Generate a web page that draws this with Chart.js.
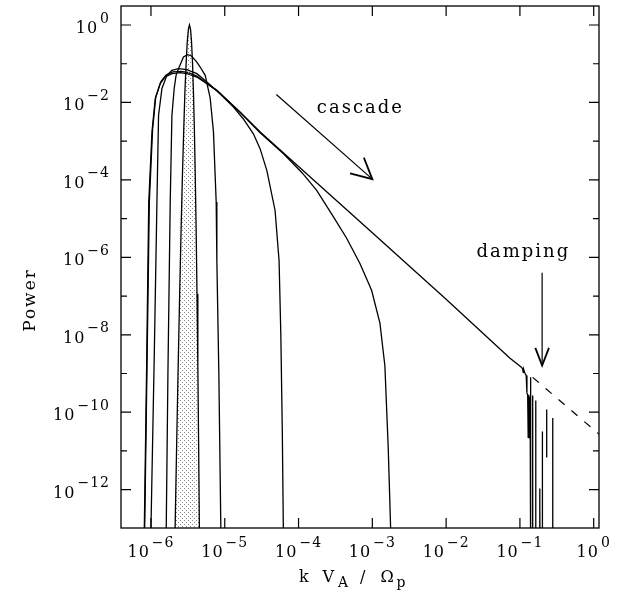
<!DOCTYPE html>
<html><head><meta charset="utf-8">
<script src="https://cdn.jsdelivr.net/npm/chart.js@4.4.1/dist/chart.umd.min.js"></script>
<style>html,body{margin:0;padding:0;background:#fff;}#wrap{width:632px;height:599px;}</style>
</head><body><div id="wrap"><canvas id="c" width="632" height="599"></canvas></div>
<script>
// ---- axis ranges (log10) and ticks ----
const xRangeLog = [-6.406, 0.0717];
const yRangeLog = [-12.99, 0.491];
const xTickExponents = [-6, -5, -4, -3, -2, -1, 0];
const yTickExponents = [0, -1, -2, -3, -4, -5, -6, -7, -8, -9, -10, -11, -12];
const yLabelExponents = [0, -2, -4, -6, -8, -10, -12];

// ---- series (log10 k, log10 P) ----
const shadedLogK = [-5.68, -5.674, -5.652, -5.631, -5.611, -5.592, -5.574, -5.556, -5.540, -5.523, -5.508, -5.4926, -5.478, -5.4638, -5.4501, -5.4369, -5.424, -5.4115, -5.3994, -5.3875, -5.376, -5.3648, -5.3539, -5.3432, -5.338];
const shadedLogP = [-14, -13.14, -10.86, -8.80, -6.95, -5.32, -3.91, -2.71, -1.737, -0.977, -0.434, -0.109, 0, -0.109, -0.434, -0.977, -1.737, -2.71, -3.91, -5.32, -6.95, -8.80, -10.86, -13.14, -14];

const curveALogK = [-5.80, -5.793, -5.77, -5.739, -5.716, -5.685, -5.66, -5.627, -5.559, -5.505, -5.45, -5.378, -5.333, -5.265, -5.198, -5.153, -5.116, -5.107, -5.08, -5.053, -5.05];
const curveALogP = [-14, -13, -9, -4.57, -2.33, -1.64, -1.30, -1.127, -0.827, -0.765, -0.80, -0.956, -1.085, -1.30, -1.88, -2.76, -4.57, -6.08, -9, -13, -14];

const curveBLogK = [-6.005, -6.0, -5.955, -5.919, -5.897, -5.851, -5.784, -5.716, -5.627, -5.513, -5.378, -5.242, -5.05, -4.882, -4.75, -4.612, -4.52, -4.43, -4.318, -4.264, -4.24, -4.22, -4.206, -4.20];
const curveBLogP = [-14, -13, -8.5, -4.57, -2.33, -1.64, -1.30, -1.17, -1.127, -1.15, -1.256, -1.47, -1.80, -2.12, -2.42, -2.81, -3.2, -3.755, -4.79, -6.08, -8.0, -10.5, -13, -14];

const curveCLogK = [-6.095, -6.085, -6.055, -6.022, -5.978, -5.935, -5.865, -5.795, -5.705, -5.60, -5.50, -5.378, -5.107, -4.79, -4.52, -4.2, -3.95, -3.754, -3.529, -3.35, -3.168, -3.01, -2.897, -2.83, -2.785, -2.752, -2.745];
const curveCLogP = [-14, -13, -9, -4.57, -2.70, -1.86, -1.46, -1.29, -1.21, -1.195, -1.225, -1.32, -1.69, -2.26, -2.78, -3.33, -3.82, -4.27, -4.95, -5.5, -6.16, -6.85, -7.7, -8.8, -10.9, -13, -14];

const curveDLogK = [-6.10, -6.09, -6.06, -6.03, -5.986, -5.942, -5.875, -5.807, -5.716, -5.60, -5.50, -5.378, -5.107, -4.79, -4.52, -4.0, -3.0, -2.0, -1.138, -0.98,
  -0.965, -0.955, -0.948, -0.935, -0.915, -0.905, -0.895, -0.888, -0.880, -0.872, -0.862, -0.856, -0.853,
  -0.830, -0.828, -0.826, -0.788, -0.786, -0.784, -0.735, -0.733, -0.728, -0.726, -0.698, -0.696, -0.694,
  -0.66, -0.637, -0.637, -0.62, -0.558, -0.556, -0.554];
const curveDLogP = [-14, -13, -9, -4.57, -2.76, -1.90, -1.51, -1.34, -1.256, -1.23, -1.26, -1.344, -1.687, -2.25, -2.765, -3.655, -5.367, -7.08, -8.60, -8.84,
  -8.87, -8.97, -8.90, -8.98, -9.05, -9.50, -9.55, -10.65, -9.55, -10.68, -9.60, -9.10, -14,
  -14, -9.57, -14, -14, -9.70, -14, -14, -11.97, -12.5, -14, -14, -10.50, -14,
  null, -9.93, -11.17, null, -14, -10.15, -14];

const dampedLogK = [-0.827, 0.08];
const dampedLogP = [-9.10, -10.58];

// ---- annotations (data coordinates) ----
const cascadeText = {text: 'cascade', k: 1.77e-4, p: 5.2e-3};
const dampingText = {text: 'damping', k: 2.58e-2, p: 1.01e-6};
const cascadeArrow = {k0: 5.0e-5, p0: 1.6e-2, k1: 1.0e-3, p1: 1.05e-4, head: 23, angle: 27};
const dampingArrow = {k0: 0.2, p0: 4.0e-7, k1: 0.2, p1: 1.6e-9, head: 19, angle: 21};

function toPoints(lk, lp) {
  return lk.map((v, i) => ({x: Math.pow(10, v), y: lp[i] === null ? null : Math.pow(10, lp[i])}));
}

const canvas = document.getElementById('c');
const ctx0 = canvas.getContext('2d');
const tile = document.createElement('canvas');
tile.width = 4; tile.height = 4;
const tctx = tile.getContext('2d');
tctx.fillStyle = '#888';
tctx.fillRect(0, 0, 1, 1);
tctx.fillRect(2, 2, 1, 1);
const dotPattern = ctx0.createPattern(tile, 'repeat');

const SERIF = '"DejaVu Serif", "Liberation Serif", serif';

function drawPow(ctx, x, baseY, expY, exp, align) {
  const base = '10';
  const e = (exp < 0 ? '\u2212' + (-exp) : String(exp));
  ctx.letterSpacing = '1px';
  ctx.font = '16px ' + SERIF;
  const wb = ctx.measureText(base).width;
  ctx.font = '14px ' + SERIF;
  const we = ctx.measureText(e).width;
  const gap = 2;
  const total = wb + gap + we;
  let sx = align === 'center' ? x - total / 2 : x - total;
  ctx.textAlign = 'left';
  ctx.textBaseline = 'alphabetic';
  ctx.font = '16px ' + SERIF;
  ctx.fillText(base, sx, baseY);
  ctx.font = '14px ' + SERIF;
  ctx.fillText(e, sx + wb + gap, expY);
  ctx.letterSpacing = '0px';
}

function arrow(ctx, xs, ys, a) {
  const x0 = xs.getPixelForValue(a.k0), y0 = ys.getPixelForValue(a.p0);
  const x1 = xs.getPixelForValue(a.k1), y1 = ys.getPixelForValue(a.p1);
  ctx.strokeStyle = '#000';
  ctx.lineWidth = 1.2;
  ctx.beginPath(); ctx.moveTo(x0, y0); ctx.lineTo(x1, y1); ctx.stroke();
  const ang = Math.atan2(y0 - y1, x0 - x1);
  const da = a.angle * Math.PI / 180;
  ctx.lineWidth = 1.8;
  ctx.beginPath();
  ctx.moveTo(x1 + a.head * Math.cos(ang - da), y1 + a.head * Math.sin(ang - da));
  ctx.lineTo(x1, y1);
  ctx.lineTo(x1 + a.head * Math.cos(ang + da), y1 + a.head * Math.sin(ang + da));
  ctx.stroke();
}

const framePlugin = {
  id: 'frame',
  afterDatasetsDraw(chart) {
    const ctx = chart.ctx;
    const a = chart.chartArea;
    const xs = chart.scales.x, ys = chart.scales.y;
    ctx.save();
    ctx.strokeStyle = '#000';
    ctx.fillStyle = '#000';
    ctx.lineWidth = 1.3;
    ctx.strokeRect(a.left, a.top, a.right - a.left, a.bottom - a.top);
    ctx.lineWidth = 1.2;
    ctx.beginPath();
    xTickExponents.forEach(e => {
      const px = xs.getPixelForValue(Math.pow(10, e));
      ctx.moveTo(px, a.bottom); ctx.lineTo(px, a.bottom - 10);
      ctx.moveTo(px, a.top); ctx.lineTo(px, a.top + 10);
    });
    yTickExponents.forEach(e => {
      const py = ys.getPixelForValue(Math.pow(10, e));
      const len = (e % 2 === 0) ? 10 : 6;
      ctx.moveTo(a.left, py); ctx.lineTo(a.left + len, py);
      ctx.moveTo(a.right, py); ctx.lineTo(a.right - len, py);
    });
    ctx.stroke();

    xTickExponents.forEach(e => {
      const px = xs.getPixelForValue(Math.pow(10, e));
      drawPow(ctx, px, a.bottom + 29, a.bottom + 18.5, e, 'center');
    });
    yLabelExponents.forEach(e => {
      const py = ys.getPixelForValue(Math.pow(10, e));
      drawPow(ctx, a.left - 11, py + 8, py - 2.5, e, 'right');
    });

    // axis titles
    ctx.textBaseline = 'alphabetic';
    ctx.textAlign = 'left';
    const cx = (a.left + a.right) / 2;
    const by = a.bottom + 54;
    ctx.font = '16px ' + SERIF;
    ctx.fillText('k', cx - 61, by);
    ctx.fillText('V', cx - 37.5, by);
    ctx.fillText('/', cx, by);
    ctx.fillText('\u03A9', cx + 20.5, by);
    ctx.font = '14px ' + SERIF;
    ctx.fillText('A', cx - 22, by + 5);
    ctx.fillText('p', cx + 36.5, by + 5);

    ctx.save();
    ctx.translate(31, (a.top + a.bottom) / 2 + 33);
    ctx.rotate(-Math.PI / 2);
    ctx.font = '17px ' + SERIF;
    ctx.letterSpacing = '2px';
    ctx.textAlign = 'center';
    ctx.textBaseline = 'middle';
    ctx.fillText('Power', 0, 0);
    ctx.restore();

    // annotations
    ctx.font = '18px ' + SERIF;
    ctx.letterSpacing = '2px';
    ctx.textAlign = 'left';
    ctx.textBaseline = 'alphabetic';
    [cascadeText, dampingText].forEach(t => {
      ctx.fillText(t.text, xs.getPixelForValue(t.k), ys.getPixelForValue(t.p));
    });
    ctx.letterSpacing = '0px';
    arrow(ctx, xs, ys, cascadeArrow);
    arrow(ctx, xs, ys, dampingArrow);
    ctx.restore();
  }
};

function lineSet(lk, lp, extra) {
  return Object.assign({
    data: toPoints(lk, lp), showLine: true, borderColor: '#000', borderWidth: 1.3,
    pointRadius: 0, fill: false, tension: 0, spanGaps: false
  }, extra || {});
}

new Chart(canvas, {
  type: 'scatter',
  data: {
    datasets: [
      lineSet(shadedLogK, shadedLogP, {fill: 'start', backgroundColor: dotPattern}),
      lineSet(curveALogK, curveALogP),
      lineSet(curveBLogK, curveBLogP),
      lineSet(curveCLogK, curveCLogP),
      lineSet(curveDLogK, curveDLogP),
      lineSet(dampedLogK, dampedLogP, {borderDash: [8, 9], borderWidth: 1.2})
    ]
  },
  options: {
    responsive: false,
    animation: false,
    events: [],
    layout: {padding: {left: 121, right: 33, top: 6, bottom: 71}},
    plugins: {legend: {display: false}, tooltip: {enabled: false}},
    scales: {
      x: {type: 'logarithmic', display: false, bounds: 'data', min: Math.pow(10, xRangeLog[0]), max: Math.pow(10, xRangeLog[1])},
      y: {type: 'logarithmic', display: false, bounds: 'data', min: Math.pow(10, yRangeLog[0]), max: Math.pow(10, yRangeLog[1])}
    }
  },
  plugins: [framePlugin]
});
</script>
</body></html>
